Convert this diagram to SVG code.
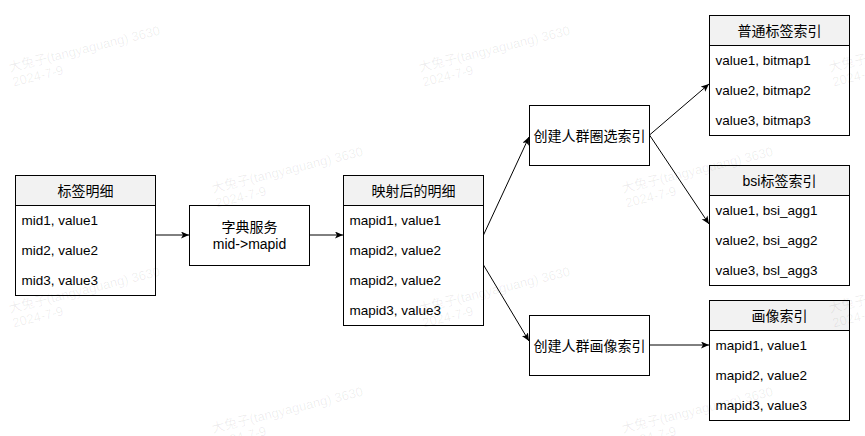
<svg xmlns="http://www.w3.org/2000/svg" width="865" height="436" viewBox="0 0 865 436">
<style>
.box{fill:#ffffff;stroke:#000000;stroke-width:1}
.hdr{fill:#f2f2f2;stroke:#000000;stroke-width:1}
.t{font-family:"Liberation Sans","Noto Sans CJK SC",sans-serif;font-size:13.5px;fill:#000000}
.h{font-family:"Liberation Sans","Noto Sans CJK SC",sans-serif;font-size:14px;fill:#000000;text-anchor:middle}
.c{text-anchor:middle}
.edge{fill:none;stroke:#000000;stroke-width:1}
.wm{font-family:"Liberation Sans","Noto Sans CJK SC",sans-serif;font-size:13px;fill:#000000;fill-opacity:0.07}
</style>
<defs>
<marker id="arr" markerUnits="userSpaceOnUse" markerWidth="10" markerHeight="8" refX="8" refY="3.5" orient="auto">
<path d="M0,0 L8,3.5 L0,7 L2,3.5 z" fill="#000000"/>
</marker>
<g id="wmark">
<text class="wm" x="0" y="0">大兔子(tangyaguang) 3630</text>
<text class="wm" x="0" y="15">2024-7-9</text>
</g>
</defs>
<rect width="865" height="436" fill="#ffffff"/>

<g id="connectors">
<line class="edge" x1="155.5" y1="235" x2="189" y2="235" marker-end="url(#arr)"/>
<line class="edge" x1="309.5" y1="235" x2="343" y2="235" marker-end="url(#arr)"/>
<line class="edge" x1="483.5" y1="235" x2="529" y2="137" marker-end="url(#arr)"/>
<line class="edge" x1="483.5" y1="265" x2="529" y2="341" marker-end="url(#arr)"/>
<line class="edge" x1="649.5" y1="135" x2="709" y2="84" marker-end="url(#arr)"/>
<line class="edge" x1="649.5" y1="135" x2="709" y2="224" marker-end="url(#arr)"/>
<line class="edge" x1="649.5" y1="345" x2="709" y2="345" marker-end="url(#arr)"/>
</g>

<g id="node-tag-detail">
<rect class="box" x="15.5" y="175.5" width="140" height="120"/>
<rect class="hdr" x="15.5" y="175.5" width="140" height="30"/>
<text class="h" x="85.5" y="195.5">标签明细</text>
<text class="t" x="21.5" y="225">mid1, value1</text>
<text class="t" x="21.5" y="255">mid2, value2</text>
<text class="t" x="21.5" y="285">mid3, value3</text>
</g>

<g id="node-dict">
<rect class="box" x="189.5" y="205.5" width="120" height="60"/>
<text class="h" x="249.5" y="232">字典服务</text>
<text class="h" x="249.5" y="249">mid-&gt;mapid</text>
</g>

<g id="node-mapped-detail">
<rect class="box" x="343.5" y="175.5" width="140" height="150"/>
<rect class="hdr" x="343.5" y="175.5" width="140" height="30"/>
<text class="h" x="413.5" y="195.5">映射后的明细</text>
<text class="t" x="349.5" y="225">mapid1, value1</text>
<text class="t" x="349.5" y="255">mapid2, value2</text>
<text class="t" x="349.5" y="285">mapid2, value2</text>
<text class="t" x="349.5" y="315">mapid3, value3</text>
</g>

<g id="node-crowd-select-index">
<rect class="box" x="529.5" y="105.5" width="120" height="60"/>
<text class="h" x="589.5" y="140.5">创建人群圈选索引</text>
</g>

<g id="node-crowd-profile-index">
<rect class="box" x="529.5" y="315.5" width="120" height="60"/>
<text class="h" x="589.5" y="350.5">创建人群画像索引</text>
</g>

<g id="node-normal-tag-index">
<rect class="box" x="709.5" y="15.5" width="140" height="120"/>
<rect class="hdr" x="709.5" y="15.5" width="140" height="30"/>
<text class="h" x="779.5" y="35.5">普通标签索引</text>
<text class="t" x="715.5" y="65">value1, bitmap1</text>
<text class="t" x="715.5" y="95">value2, bitmap2</text>
<text class="t" x="715.5" y="125">value3, bitmap3</text>
</g>

<g id="node-bsi-tag-index">
<rect class="box" x="709.5" y="165.5" width="140" height="120"/>
<rect class="hdr" x="709.5" y="165.5" width="140" height="30"/>
<text class="h" x="779.5" y="185.5">bsi标签索引</text>
<text class="t" x="715.5" y="215">value1, bsi_agg1</text>
<text class="t" x="715.5" y="245">value2, bsi_agg2</text>
<text class="t" x="715.5" y="275">value3, bsl_agg3</text>
</g>

<g id="node-profile-index">
<rect class="box" x="709.5" y="300.5" width="140" height="120"/>
<rect class="hdr" x="709.5" y="300.5" width="140" height="30"/>
<text class="h" x="779.5" y="320.5">画像索引</text>
<text class="t" x="715.5" y="350">mapid1, value1</text>
<text class="t" x="715.5" y="380">mapid2, value2</text>
<text class="t" x="715.5" y="410">mapid3, value3</text>
</g>

<g id="watermarks">
<use href="#wmark" transform="translate(10,72) rotate(-14)"/>
<use href="#wmark" transform="translate(420,72) rotate(-14)"/>
<use href="#wmark" transform="translate(830,72) rotate(-14)"/>
<use href="#wmark" transform="translate(213,193) rotate(-14)"/>
<use href="#wmark" transform="translate(623,193) rotate(-14)"/>
<use href="#wmark" transform="translate(10,313) rotate(-14)"/>
<use href="#wmark" transform="translate(420,313) rotate(-14)"/>
<use href="#wmark" transform="translate(830,313) rotate(-14)"/>
<use href="#wmark" transform="translate(213,433) rotate(-14)"/>
<use href="#wmark" transform="translate(623,433) rotate(-14)"/>
</g>
</svg>
